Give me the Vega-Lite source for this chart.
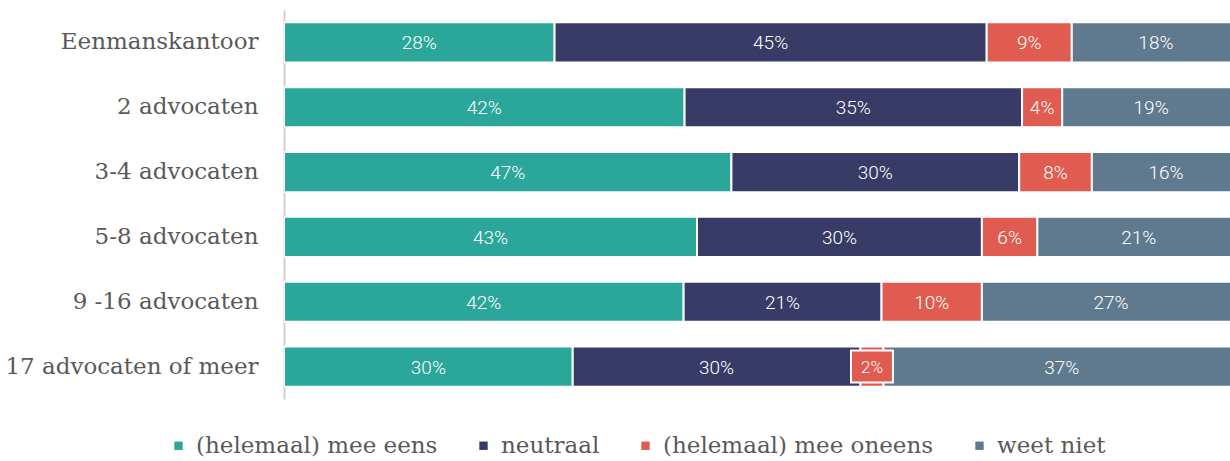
{
  "$schema": "https://vega.github.io/schema/vega-lite/v6.json",
  "width": 946,
  "height": 389,
  "autosize": {"type": "none"},
  "padding": {"left": 284, "top": 10, "right": 0, "bottom": 62},
  "background": "white",
  "config": {"view": {"stroke": null}},
  "data": {
    "values": [
      {"group": "Eenmanskantoor", "cat": "(helemaal) mee eens", "o": 1, "value": 28.3, "label": "28%"},
      {"group": "Eenmanskantoor", "cat": "neutraal", "o": 2, "value": 45.2, "label": "45%"},
      {"group": "Eenmanskantoor", "cat": "(helemaal) mee oneens", "o": 3, "value": 8.9, "label": "9%"},
      {"group": "Eenmanskantoor", "cat": "weet niet", "o": 4, "value": 17.6, "label": "18%"},
      {"group": "2 advocaten", "cat": "(helemaal) mee eens", "o": 1, "value": 41.9, "label": "42%"},
      {"group": "2 advocaten", "cat": "neutraal", "o": 2, "value": 35.3, "label": "35%"},
      {"group": "2 advocaten", "cat": "(helemaal) mee oneens", "o": 3, "value": 4.2, "label": "4%"},
      {"group": "2 advocaten", "cat": "weet niet", "o": 4, "value": 18.6, "label": "19%"},
      {"group": "3-4 advocaten", "cat": "(helemaal) mee eens", "o": 1, "value": 46.8, "label": "47%"},
      {"group": "3-4 advocaten", "cat": "neutraal", "o": 2, "value": 30.1, "label": "30%"},
      {"group": "3-4 advocaten", "cat": "(helemaal) mee oneens", "o": 3, "value": 7.6, "label": "8%"},
      {"group": "3-4 advocaten", "cat": "weet niet", "o": 4, "value": 15.5, "label": "16%"},
      {"group": "5-8 advocaten", "cat": "(helemaal) mee eens", "o": 1, "value": 43.2, "label": "43%"},
      {"group": "5-8 advocaten", "cat": "neutraal", "o": 2, "value": 29.8, "label": "30%"},
      {"group": "5-8 advocaten", "cat": "(helemaal) mee oneens", "o": 3, "value": 5.8, "label": "6%"},
      {"group": "5-8 advocaten", "cat": "weet niet", "o": 4, "value": 21.2, "label": "21%"},
      {"group": "9 -16 advocaten", "cat": "(helemaal) mee eens", "o": 1, "value": 41.8, "label": "42%"},
      {"group": "9 -16 advocaten", "cat": "neutraal", "o": 2, "value": 20.7, "label": "21%"},
      {"group": "9 -16 advocaten", "cat": "(helemaal) mee oneens", "o": 3, "value": 10.5, "label": "10%"},
      {"group": "9 -16 advocaten", "cat": "weet niet", "o": 4, "value": 27.0, "label": "27%"},
      {"group": "17 advocaten of meer", "cat": "(helemaal) mee eens", "o": 1, "value": 30.2, "label": "30%"},
      {"group": "17 advocaten of meer", "cat": "neutraal", "o": 2, "value": 30.1, "label": "30%"},
      {"group": "17 advocaten of meer", "cat": "(helemaal) mee oneens", "o": 3, "value": 2.4, "label": "2%"},
      {"group": "17 advocaten of meer", "cat": "weet niet", "o": 4, "value": 37.3, "label": "37%"}
    ]
  },
  "encoding": {
    "y": {
      "field": "group",
      "type": "nominal",
      "sort": null,
      "scale": {"paddingInner": 0.38, "paddingOuter": 0.19},
      "axis": {
        "title": null,
        "ticks": false,
        "domain": true,
        "domainColor": "#d0d0d0",
        "domainWidth": 2,
        "labelFont": "DejaVu Serif",
        "labelFontSize": 23,
        "labelColor": "#595959",
        "labelPadding": 26,
        "labelLimit": 300
      }
    },
    "x": {
      "field": "value",
      "type": "quantitative",
      "stack": "normalize",
      "scale": {"domain": [0, 0.9895], "nice": false, "zero": true},
      "axis": null
    },
    "order": {"field": "o", "type": "quantitative"}
  },
  "layer": [
    {
      "mark": {"type": "bar", "stroke": "white", "strokeWidth": 2, "clip": true},
      "encoding": {
        "color": {
          "field": "cat",
          "type": "nominal",
          "scale": {
            "domain": ["(helemaal) mee eens", "neutraal", "(helemaal) mee oneens", "weet niet"],
            "range": ["#2aa69a", "#383b66", "#e05c50", "#5f7a8e"]
          },
          "legend": {
            "title": null,
            "orient": "none",
            "direction": "horizontal",
            "legendX": -117,
            "legendY": 424,
            "symbolType": "square",
            "symbolSize": 70,
            "symbolStrokeWidth": 0,
            "labelFont": "DejaVu Serif",
            "labelFontSize": 23,
            "labelColor": "#595959",
            "labelOffset": 6,
            "labelLimit": 400,
            "columnPadding": 34
          }
        }
      }
    },
    {
      "mark": {
        "type": "point",
        "shape": "M-1.31,-1L1.31,-1L1.31,1L-1.31,1Z",
        "size": 1024,
        "filled": true,
        "fill": "#e05c50",
        "stroke": "white",
        "strokeWidth": 2
      },
      "encoding": {
        "x": {"field": "value", "type": "quantitative", "stack": "normalize", "bandPosition": 0.5},
        "opacity": {
          "condition": {"test": "datum.value < 3", "value": 1},
          "value": 0
        }
      }
    },
    {
      "mark": {"type": "text", "color": "white", "font": "Roboto", "fontWeight": 300, "baseline": "middle", "align": "center", "dy": 1},
      "encoding": {
        "x": {"field": "value", "type": "quantitative", "stack": "normalize", "bandPosition": 0.5},
        "text": {"field": "label", "type": "nominal"},
        "size": {
          "condition": {"test": "datum.value < 3", "value": 17},
          "value": 19
        }
      }
    }
  ]
}
